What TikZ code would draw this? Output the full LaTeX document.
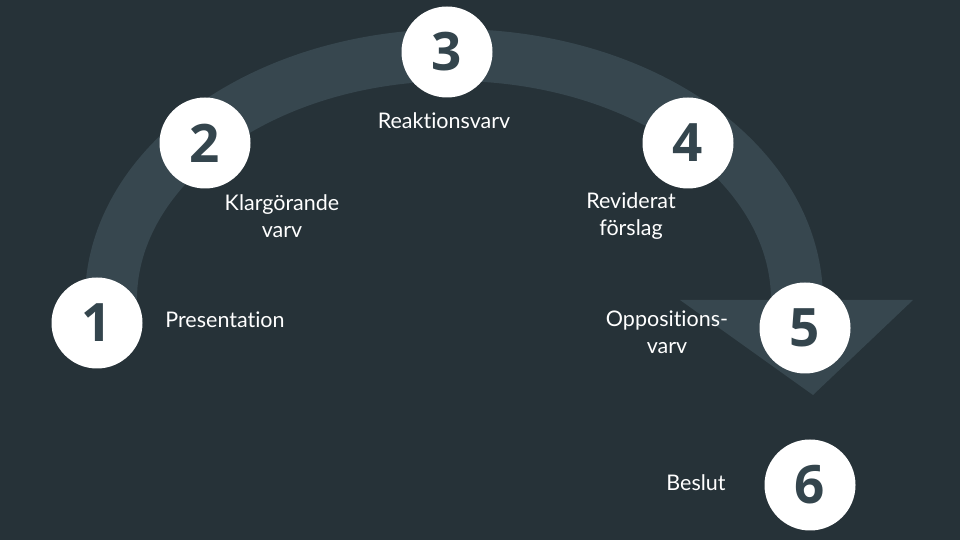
\documentclass[tikz,border=0pt]{standalone}
\usepackage{fontspec}
\setmainfont{Lato}[Ligatures={NoCommon,TeX}]
\newfontfamily\numfont{Open Sans}
\definecolor{bg}{HTML}{263238}
\definecolor{bandcol}{HTML}{37474F}
\definecolor{numcol}{HTML}{34454D}
\tikzset{
  stepcircle/.style={circle, fill=white, minimum size=91pt, inner sep=0pt,
    text=numcol, font=\numfont\bfseries\fontsize{53}{53}\selectfont},
  lbl/.style={text=white, align=center, inner sep=0pt,
    font=\fontsize{21.5}{26.5}\selectfont}
}
\begin{document}
\begin{tikzpicture}[x=1pt,y=1pt]
\fill[bg] (0,0) rectangle (960,540);
\useasboundingbox (0,0) rectangle (960,540);
% arc band
\draw[bandcol, line width=52pt] (454,240) ++(186:343 and 245)
  arc[start angle=186, end angle=0, x radius=343, y radius=245];
\fill[bandcol] (680,240) -- (913,240) -- (813,145) -- cycle;
% circles
\node[stepcircle] (c1) at (97,217) {1};
\node[stepcircle] (c2) at (205,397) {2};
\node[stepcircle] (c3) at (447,488) {3};
\node[stepcircle] (c4) at (688,397) {4};
\node[stepcircle] (c5) at (805,212) {5};
\node[stepcircle] (c6) at (810,55) {6};
% labels
\node[lbl] (l1) at (225,220) {Presentation};
\node[lbl] (l2) at (282,324) {Klargörande\\varv};
\node[lbl] (l3) at (444,419) {Reaktionsvarv};
\node[lbl] (l4) at (631,324) {Reviderat\\förslag};
\node[lbl] (l5) at (667,208) {Oppositions-\\varv};
\node[lbl] (l6) at (696,57) {Beslut};
\end{tikzpicture}
\end{document}
